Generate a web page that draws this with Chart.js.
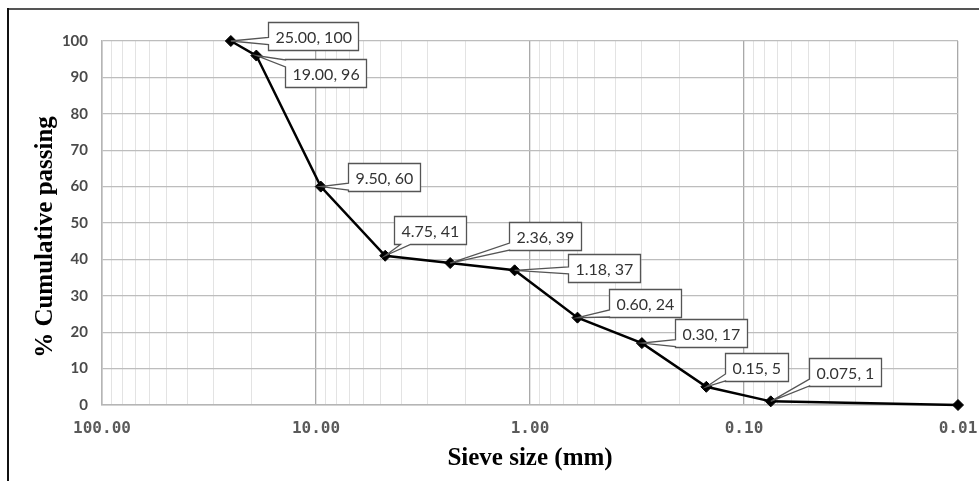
<!DOCTYPE html>
<html>
<head>
<meta charset="utf-8">
<script src="https://cdn.jsdelivr.net/npm/chart.js@4/dist/chart.umd.min.js"></script>
<style>
  html, body { margin: 0; padding: 0; background: #fff; }
  #wrap { position: relative; width: 979px; height: 481px; }
</style>
</head>
<body>
<div id="wrap"><canvas id="grading"></canvas></div>
<script>
// sieve analysis data
const sieveSizes = [25, 19, 9.5, 4.75, 2.36, 1.18, 0.6, 0.3, 0.15, 0.075, 0.01];
const passing = [100, 96, 60, 41, 39, 37, 24, 17, 5, 1, 0];
const xTickDecades = [100, 10, 1, 0.1, 0.01];
const yTicks = [0, 10, 20, 30, 40, 50, 60, 70, 80, 90, 100];

// callout box offsets from point (px), null = no callout
const calloutOffsets = [
    [37, -19], [29, 3], [27, -24], [9, -40], [59, -41], [53, -16],
    [32, -29], [33, -24], [19, -34], [38, -43], null
];

function isDecade(v) {
    const l = Math.log10(v);
    return Math.abs(l - Math.round(l)) < 1e-6;
}

// grid positions: 1..9 x each decade
function logGridTicks() {
    const out = [];
    for (let e = -2; e < 2; e++) {
        for (let m = 1; m < 10; m++) out.push(Number((m * Math.pow(10, e)).toPrecision(6)));
    }
    out.push(100);
    return out;
}

function calloutText(i) {
    const s = sieveSizes[i];
    return s.toFixed(s < 0.1 ? 3 : 2) + ", " + passing[i];
}

// frame lines + callouts + axis titles
const decorPlugin = {
    id: "decor",
    beforeDraw(chart) {
        const ctx = chart.ctx;
        ctx.save();
        ctx.fillStyle = "#fff";
        ctx.fillRect(0, 0, chart.width, chart.height);
        ctx.lineWidth = 2;
        ctx.strokeStyle = "#555";
        ctx.beginPath();
        ctx.moveTo(7, 9);
        ctx.lineTo(chart.width, 9);
        ctx.stroke();
        ctx.strokeStyle = "#111";
        ctx.beginPath();
        ctx.moveTo(8, 8);
        ctx.lineTo(8, chart.height);
        ctx.stroke();
        ctx.restore();
    },
    afterDatasetsDraw(chart) {
        const ctx = chart.ctx;
        const pts = chart.getDatasetMeta(0).data;
        ctx.save();
        ctx.font = "16px Lato";
        ctx.textBaseline = "middle";
        pts.forEach((p, i) => {
            const off = calloutOffsets[i];
            if (!off) return;
            const txt = calloutText(i);
            const w = Math.round(ctx.measureText(txt).width) + 14;
            const h = 28;
            const L = Math.round(p.x + off[0]) + 0.5, T = Math.round(p.y + off[1]) + 0.5;
            const R = L + w, B = T + h;
            ctx.beginPath();
            ctx.moveTo(L, T);
            ctx.lineTo(R, T);
            ctx.lineTo(R, B);
            if (off[0] > 15) {
                const cy = Math.min(Math.max(p.y, T + 4), B - 4);
                ctx.lineTo(L, B);
                ctx.lineTo(L, cy + 3.5);
                ctx.lineTo(p.x, p.y);
                ctx.lineTo(L, cy - 3.5);
            } else {
                ctx.lineTo(L + 16, B);
                ctx.lineTo(p.x, p.y);
                ctx.lineTo(L + 6, B);
                ctx.lineTo(L, B);
            }
            ctx.closePath();
            ctx.fillStyle = "#fff";
            ctx.fill();
            ctx.lineWidth = 1.3;
            ctx.strokeStyle = "#555";
            ctx.stroke();
            ctx.fillStyle = "#333";
            ctx.fillText(txt, L + 7, T + h / 2 + 1);
        });
        ctx.restore();
    },
    afterDraw(chart) {
        const ctx = chart.ctx;
        const area = chart.chartArea;
        ctx.save();
        ctx.fillStyle = "#000";
        ctx.font = "bold 25px 'Liberation Serif'";
        ctx.textAlign = "center";
        ctx.textBaseline = "middle";
        ctx.fillText("Sieve size (mm)", (area.left + area.right) / 2, 459);
        ctx.translate(46, (area.top + area.bottom) / 2 + 14);
        ctx.rotate(-Math.PI / 2);
        ctx.fillText("% Cumulative passing", 0, 0);
        ctx.restore();
    }
};

new Chart(document.getElementById("grading"), {
    type: "scatter",
    data: {
        datasets: [{
            data: sieveSizes.map((s, i) => ({ x: s, y: passing[i] })),
            showLine: true,
            clip: false,
            borderColor: "#000",
            borderWidth: 2.5,
            pointStyle: "rectRot",
            pointRadius: 5.5,
            pointBackgroundColor: "#000",
            pointBorderColor: "#000",
            pointBorderWidth: 1
        }]
    },
    options: {
        responsive: true,
        maintainAspectRatio: false,
        animation: false,
        layout: { padding: { left: 0, top: 41, right: 21, bottom: 0 } },
        plugins: {
            legend: { display: false },
            tooltip: { enabled: false }
        },
        scales: {
            x: {
                type: "logarithmic",
                reverse: true,
                min: 0.01,
                max: 100,
                afterFit: (scale) => { scale.height = 76; },
                afterBuildTicks: (scale) => { scale.ticks = logGridTicks().map(v => ({ value: v })); },
                grid: {
                    drawTicks: false,
                    color: (c) => isDecade(c.tick.value) ? "#a9a9a9" : "#e3e3e3",
                    lineWidth: (c) => isDecade(c.tick.value) ? 1.3 : 1
                },
                border: { color: "#b5b5b5", width: 1.5 },
                ticks: {
                    autoSkip: false,
                    maxRotation: 0,
                    padding: 14,
                    color: "#5a5a5a",
                    font: { family: "'DejaVu Sans Mono'", size: 16, weight: "bold" },
                    callback: (v) => {
                        const hit = xTickDecades.find(d => Math.abs(d - v) / d < 1e-6);
                        return hit !== undefined ? hit.toFixed(2) : "";
                    }
                }
            },
            y: {
                min: 0,
                max: 100,
                afterFit: (scale) => { scale.width = 102; },
                afterBuildTicks: (scale) => { scale.ticks = yTicks.map(v => ({ value: v })); },
                grid: { drawTicks: false, color: "#bdbdbd", lineWidth: 1.3 },
                border: { color: "#b5b5b5", width: 1.5 },
                ticks: {
                    padding: 14,
                    color: "#4a4a4a",
                    font: { family: "Lato", size: 15, weight: "bold" }
                }
            }
        }
    },
    plugins: [decorPlugin]
});
</script>
</body>
</html>
